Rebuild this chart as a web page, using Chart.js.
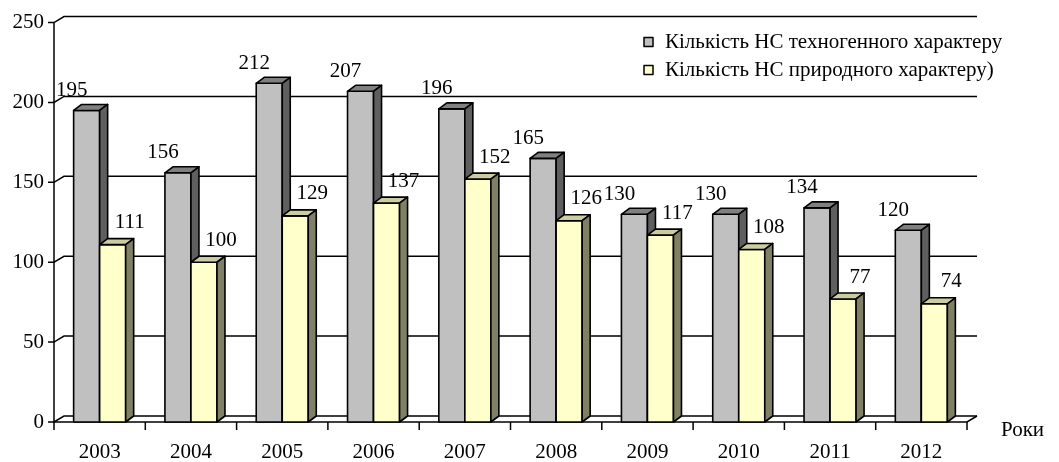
<!DOCTYPE html>
<html>
<head>
<meta charset="utf-8">
<script src="https://cdn.jsdelivr.net/npm/chart.js@4.4.1/dist/chart.umd.min.js"></script>
<style>
  html, body { margin: 0; padding: 0; background: #fff; }
</style>
</head>
<body>
<canvas id="chart" width="1059" height="462"></canvas>
<script>
const years = ["2003", "2004", "2005", "2006", "2007", "2008", "2009", "2010", "2011", "2012"];
const techCounts = [195, 156, 212, 207, 196, 165, 130, 130, 134, 120];
const naturalCounts = [111, 100, 129, 137, 152, 126, 117, 108, 77, 74];
const seriesNames = ["Кількість НС техногенного характеру", "Кількість НС природного характеру)"];
const yTicks = [0, 50, 100, 150, 200, 250];
const xTitle = "Роки";

const FONT = "'Liberation Serif', 'Times New Roman', serif";
const faces = [
  { front: "#C0C0C0", top: "#808080", side: "#5F5F5F", label: [-15, -20] },
  { front: "#FFFFCC", top: "#CCCCA3", side: "#808066", label: [17, -22] },
];
const DX = 8, DY = -6;   // bar depth
const WX = 10, WY = -6;  // back wall offset

// fake 3d: back wall grid, floor, extruded bars, labels, legend
const chart3d = {
  id: "chart3d",
  beforeDatasetsDraw(chart) {
    const { ctx, chartArea: a, scales: { x, y } } = chart;
    ctx.save();
    ctx.strokeStyle = "#000";
    ctx.lineWidth = 1.5;
    yTicks.forEach((v) => {
      const py = y.getPixelForValue(v);
      ctx.beginPath();
      ctx.moveTo(a.left - 6, py);
      ctx.lineTo(a.left, py);
      ctx.lineTo(a.left + WX, py + WY);
      ctx.lineTo(a.right + WX, py + WY);
      ctx.stroke();
    });
    // front axis
    ctx.beginPath();
    ctx.moveTo(a.left, y.getPixelForValue(250));
    ctx.lineTo(a.left, a.bottom);
    ctx.lineTo(a.right, a.bottom);
    ctx.lineTo(a.right + WX, a.bottom + WY);
    ctx.stroke();
    // category ticks
    const step = x.getPixelForValue(1) - x.getPixelForValue(0);
    for (let i = 0; i <= years.length; i++) {
      const px = x.getPixelForValue(0) - step / 2 + i * step;
      ctx.beginPath();
      ctx.moveTo(px, a.bottom);
      ctx.lineTo(px, a.bottom + 8);
      ctx.stroke();
    }
    ctx.restore();
  },
  afterDatasetsDraw(chart) {
    const { ctx } = chart;
    ctx.save();
    ctx.strokeStyle = "#000";
    ctx.lineWidth = 1.6;
    ctx.lineJoin = "round";
    chart.data.datasets.forEach((ds, i) => {
      const f = faces[i];
      chart.getDatasetMeta(i).data.forEach((bar) => {
        const { x, y, base, width } = bar.getProps(["x", "y", "base", "width"], true);
        const l = x - width / 2, r = x + width / 2;
        ctx.fillStyle = f.front;
        ctx.fillRect(l, y, width, base - y);
        ctx.strokeRect(l, y, width, base - y);
        ctx.beginPath();
        ctx.moveTo(l, y);
        ctx.lineTo(l + DX, y + DY);
        ctx.lineTo(r + DX, y + DY);
        ctx.lineTo(r, y);
        ctx.closePath();
        ctx.fillStyle = f.top;
        ctx.fill();
        ctx.stroke();
        ctx.beginPath();
        ctx.moveTo(r, y);
        ctx.lineTo(r + DX, y + DY);
        ctx.lineTo(r + DX, base + DY);
        ctx.lineTo(r, base);
        ctx.closePath();
        ctx.fillStyle = f.side;
        ctx.fill();
        ctx.stroke();
      });
    });
    // value labels
    ctx.fillStyle = "#000";
    ctx.font = "21px " + FONT;
    ctx.textAlign = "center";
    ctx.textBaseline = "middle";
    chart.data.datasets.forEach((ds, i) => {
      const off = faces[i].label;
      chart.getDatasetMeta(i).data.forEach((bar, j) => {
        ctx.fillText(String(ds.data[j]), bar.x + off[0], bar.y + off[1]);
      });
    });
    // legend
    ctx.textAlign = "left";
    ctx.lineWidth = 1.5;
    chart.data.datasets.forEach((ds, i) => {
      const cy = 42 + i * 28;
      ctx.fillStyle = faces[i].front;
      ctx.fillRect(644, cy - 4.5, 9, 9);
      ctx.strokeRect(644, cy - 4.5, 9, 9);
      ctx.fillStyle = "#000";
      ctx.fillText(ds.label, 665, cy);
    });
    // axis title
    ctx.fillText(xTitle, 1001, chart.chartArea.bottom + 8);
    ctx.restore();
  },
};

const tickFont = { family: FONT, size: 21 };

new Chart(document.getElementById("chart"), {
  type: "bar",
  data: {
    labels: years,
    datasets: [
      { label: seriesNames[0], data: techCounts, backgroundColor: faces[0].front },
      { label: seriesNames[1], data: naturalCounts, backgroundColor: faces[1].front },
    ],
  },
  options: {
    responsive: false,
    animation: false,
    devicePixelRatio: 1,
    categoryPercentage: 0.57,
    barPercentage: 1,
    layout: { padding: { top: 20, right: 92, left: 0, bottom: 0 } },
    scales: {
      x: {
        grid: { display: false, drawTicks: false },
        border: { display: false },
        ticks: { font: tickFont, color: "#000", padding: 18, maxRotation: 0 },
        afterFit: (s) => { s.height = 40; },
      },
      y: {
        min: 0,
        max: 250,
        grid: { display: false, drawTicks: false },
        border: { display: false },
        ticks: { font: tickFont, color: "#000", padding: 10, stepSize: 50 },
        afterFit: (s) => { s.width = 54; },
      },
    },
    plugins: {
      legend: { display: false },
      tooltip: { enabled: false },
    },
  },
  plugins: [chart3d],
});
</script>
</body>
</html>
